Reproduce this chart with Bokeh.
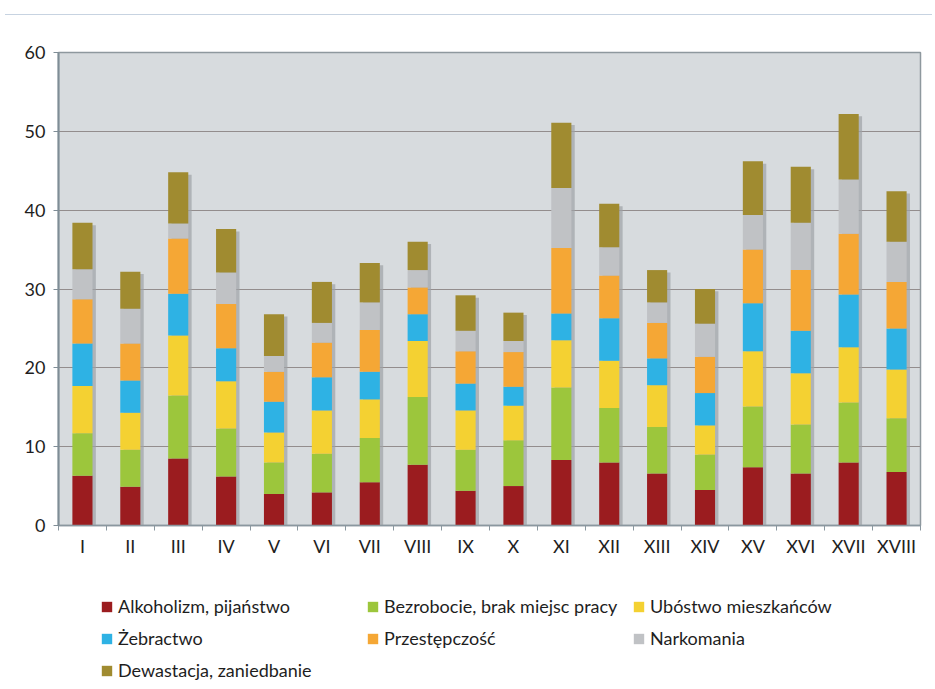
from bokeh.plotting import figure
from bokeh.models import (ColumnDataSource, FactorRange, Range1d, LinearAxis, CategoricalAxis,
                          FixedTicker, Legend, LegendItem, Div)
from bokeh.layouts import column
from bokeh.transform import dodge
from bokeh.embed import file_html
from bokeh.resources import INLINE

categories = ["I", "II", "III", "IV", "V", "VI", "VII", "VIII", "IX", "X",
              "XI", "XII", "XIII", "XIV", "XV", "XVI", "XVII", "XVIII"]

alkoholizm    = [6.3, 4.9, 8.5, 6.2, 4.0, 4.2, 5.5, 7.7, 4.4, 5.0, 8.3, 8.0, 6.6, 4.5, 7.4, 6.6, 8.0, 6.8]
bezrobocie    = [5.4, 4.7, 8.0, 6.1, 4.0, 4.9, 5.6, 8.6, 5.2, 5.8, 9.2, 6.9, 5.9, 4.5, 7.7, 6.2, 7.6, 6.8]
ubostwo       = [6.0, 4.7, 7.6, 6.0, 3.8, 5.5, 4.9, 7.1, 5.0, 4.4, 6.0, 6.0, 5.3, 3.7, 7.0, 6.5, 7.0, 6.2]
zebractwo     = [5.4, 4.1, 5.3, 4.2, 3.9, 4.2, 3.5, 3.4, 3.4, 2.4, 3.4, 5.4, 3.4, 4.1, 6.1, 5.4, 6.7, 5.2]
przestepczosc = [5.6, 4.7, 7.0, 5.6, 3.8, 4.4, 5.3, 3.4, 4.1, 4.4, 8.3, 5.4, 4.5, 4.6, 6.8, 7.7, 7.7, 5.9]
narkomania    = [3.8, 4.4, 1.9, 4.0, 2.0, 2.5, 3.5, 2.2, 2.6, 1.4, 7.6, 3.6, 2.6, 4.2, 4.4, 6.0, 6.9, 5.1]
dewastacja    = [5.9, 4.7, 6.5, 5.5, 5.3, 5.2, 5.0, 3.6, 4.5, 3.6, 8.3, 5.5, 4.1, 4.4, 6.8, 7.1, 8.3, 6.4]

series_keys = ["alk", "bez", "ubo", "zeb", "prz", "nar", "dew"]
series_labels = ["Alkoholizm, pijaństwo", "Bezrobocie, brak miejsc pracy", "Ubóstwo mieszkańców",
                 "Żebractwo", "Przestępczość", "Narkomania", "Dewastacja, zaniedbanie"]
series_colors = ["#9b1c1f", "#9cc63c", "#f4d132", "#2eb2e4", "#f5a735", "#c0c2c5", "#a08b30"]

data = dict(cat=categories, alk=alkoholizm, bez=bezrobocie, ubo=ubostwo, zeb=zebractwo,
            prz=przestepczosc, nar=narkomania, dew=dewastacja)
totals = [sum(v) for v in zip(alkoholizm, bezrobocie, ubostwo, zebractwo, przestepczosc, narkomania, dewastacja)]
data["total"] = totals
data["shadow_top"] = [t - 0.3 for t in totals]
src = ColumnDataSource(data)

FONT = "Lato"

p = figure(x_range=FactorRange(*categories, range_padding=0), y_range=Range1d(0, 60),
           width=927, height=555, output_backend="svg", toolbar_location=None,
           x_axis_location=None, min_border_left=58, min_border_right=7,
           min_border_top=32, min_border_bottom=50)
p.background_fill_color = "#d7dbde"
p.border_fill_color = "white"
p.outline_line_color = "#8e989e"
p.outline_line_width = 1.5

# y axis
p.yaxis.ticker = FixedTicker(ticks=[0, 10, 20, 30, 40, 50, 60])
p.yaxis.axis_line_color = "#7f8d96"
p.yaxis.axis_line_width = 2
p.yaxis.major_tick_line_color = "#7f8d96"
p.yaxis.major_tick_out = 5
p.yaxis.major_tick_in = 0
p.yaxis.minor_tick_line_color = None
p.yaxis.major_label_text_font = FONT
p.yaxis.major_label_text_font_size = "18px"
p.yaxis.major_label_text_color = "#1e1e1e"
p.yaxis.major_label_standoff = 8

p.ygrid.grid_line_color = "#938d8d"
p.ygrid.grid_line_width = 1
p.xgrid.grid_line_color = None

# x axes: boundary ticks (between categories) + category labels
tick_axis = LinearAxis(ticker=FixedTicker(ticks=list(range(len(categories) + 1))),
                       axis_line_color="#8a979f", axis_line_width=1.5,
                       major_tick_line_color="#8a979f", major_tick_out=5, major_tick_in=0,
                       minor_tick_line_color=None, major_label_text_color=None,
                       major_label_standoff=0)
p.add_layout(tick_axis, "below")
cat_axis = CategoricalAxis(axis_line_color=None, major_tick_line_color=None,
                           major_tick_out=0, major_tick_in=0,
                           major_label_text_font=FONT, major_label_text_font_size="18px",
                           major_label_text_color="#1e1e1e", major_label_standoff=4)
p.add_layout(cat_axis, "below")

# shadows
p.vbar(x=dodge("cat", 0.07, range=p.x_range), top="shadow_top", bottom=0, width=0.42,
       source=src, fill_color="#9ea3a7", fill_alpha=0.7, line_color=None)

p.vbar_stack(series_keys, x="cat", width=0.42, source=src,
             color=series_colors, line_color=None)

# legend panel (separate canvas below the chart; its zero-width bars lie outside its view)
lg = figure(width=927, height=106, output_backend="svg", toolbar_location=None,
            x_range=FactorRange(*categories, range_padding=0), y_range=Range1d(-2, -1),
            x_axis_location=None, y_axis_location=None, min_border=0)
lg.outline_line_color = None
lg.grid.grid_line_color = None
lg.background_fill_color = "white"
lg.border_fill_color = "white"
legend_renderers = lg.vbar_stack(series_keys, x="cat", width=0, source=src,
                                 color=series_colors, line_color=None)
items = [LegendItem(label=lab, renderers=[r]) for lab, r in zip(series_labels, legend_renderers)]
legend = Legend(items=items, location=(42, 0), orientation="horizontal", ncols=3,
                padding=0, margin=0, border_line_color=None, background_fill_alpha=0,
                glyph_width=13, glyph_height=13, label_standoff=5, label_width=238,
                label_height=20, spacing=10,
                label_text_font=FONT, label_text_font_size="18px", label_text_color="#1e1e1e")
lg.add_layout(legend, "center")

topline = Div(text="", width=927, height=10,
              styles={"border-bottom": "1px solid #c7d3e1"})

layout = column(topline, p, lg, spacing=0)

open("out.html", "w").write(file_html(layout, INLINE))
